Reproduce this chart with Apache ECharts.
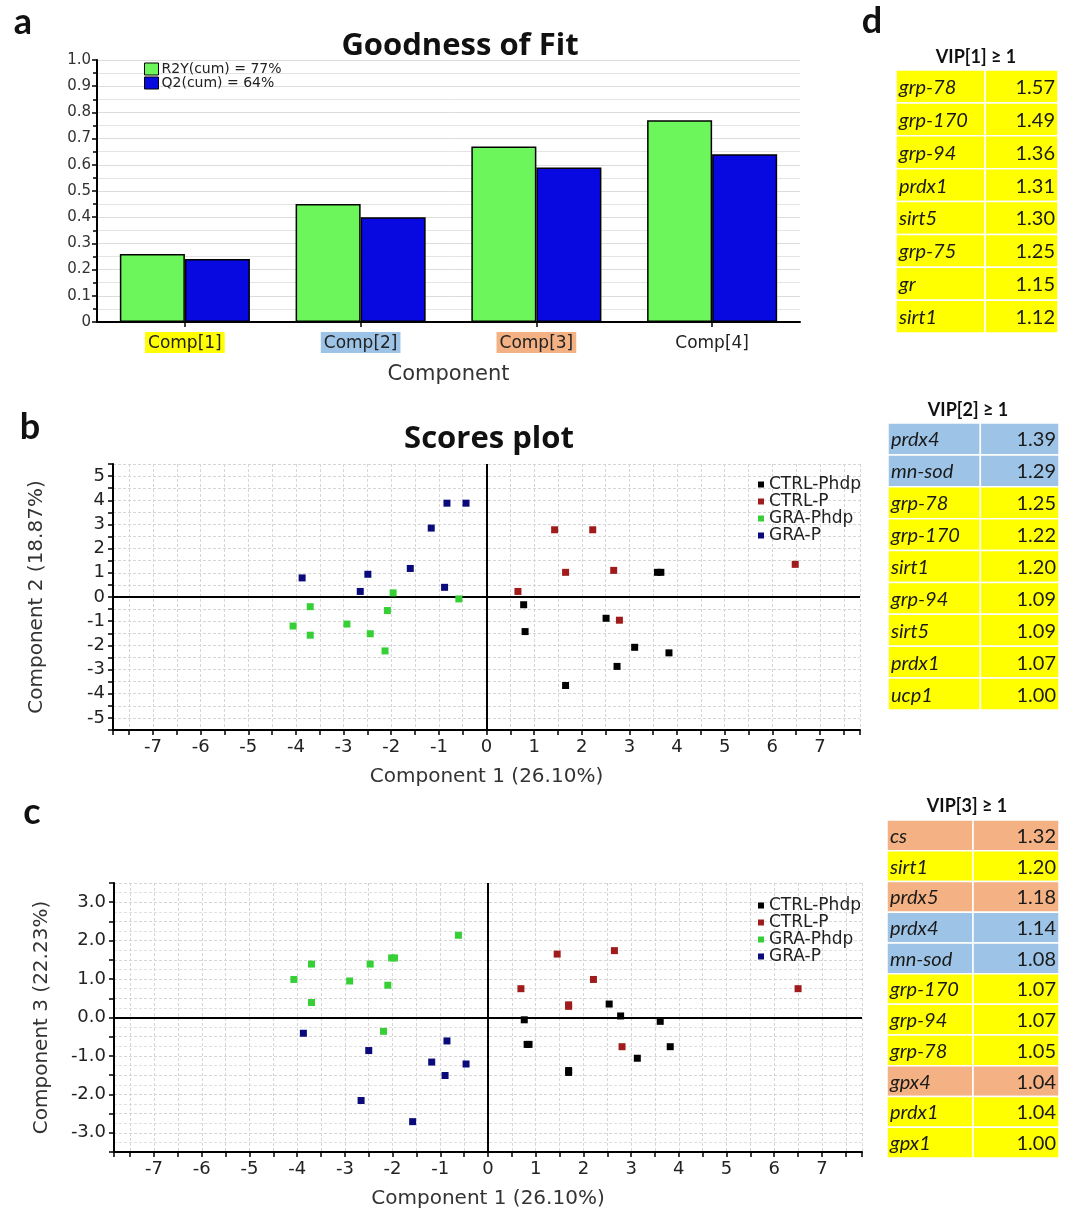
<!DOCTYPE html>
<html><head><meta charset="utf-8">
<script src="https://cdn.jsdelivr.net/npm/echarts@6/dist/echarts.min.js"></script>
<style>html,body{margin:0;padding:0;background:#fff}#c{width:1068px;height:1215px}</style>
</head><body><div id="c"></div>
<script>
// ---------- DATA ----------
const components = ['Comp[1]','Comp[2]','Comp[3]','Comp[4]'];
const r2yCum = [0.26, 0.45, 0.67, 0.77];
const q2Cum  = [0.24, 0.40, 0.59, 0.64];
const r2yName = 'R2Y(cum) = 77%';
const q2Name  = 'Q2(cum) = 64%';

const groupNames = ['CTRL-Phdp','CTRL-P','GRA-Phdp','GRA-P'];
// Scores plot: [Component 1, Component 2]
const ctrlPhdp12 = [[3.59,1.02],[3.66,1.02],[0.78,-0.32],[0.81,-1.43],[2.51,-0.88],[3.11,-2.08],[3.83,-2.31],[2.74,-2.87],[1.66,-3.66]];
const ctrlP12    = [[1.43,2.78],[2.23,2.78],[1.66,1.02],[2.67,1.10],[0.66,0.23],[2.79,-0.96],[6.48,1.35]];
const graPhdp12  = [[-1.96,0.17],[-0.58,-0.08],[-3.70,-0.40],[-2.08,-0.56],[-4.06,-1.20],[-2.93,-1.12],[-3.70,-1.58],[-2.44,-1.52],[-2.13,-2.23]];
const graP12     = [[-0.83,3.88],[-0.43,3.88],[-1.16,2.85],[-1.60,1.18],[-2.49,0.94],[-3.87,0.79],[-2.65,0.23],[-0.88,0.40]];
// [Component 1, Component 3]
const ctrlPhdp13 = [[0.76,-0.06],[0.82,-0.70],[0.86,-0.70],[1.69,-1.38],[1.69,-1.43],[2.54,0.35],[2.78,0.04],[3.61,-0.10],[3.82,-0.76],[3.13,-1.06]];
const ctrlP13    = [[1.45,1.65],[2.65,1.74],[2.21,0.99],[0.69,0.75],[1.69,0.33],[1.69,0.29],[2.81,-0.76],[6.50,0.75]];
const graPhdp13  = [[-0.62,2.14],[-2.02,1.55],[-1.96,1.55],[-2.47,1.39],[-3.70,1.39],[-4.07,0.99],[-2.90,0.95],[-2.10,0.84],[-3.70,0.39],[-2.19,-0.36]];
const graP13     = [[-3.87,-0.41],[-2.50,-0.86],[-0.86,-0.61],[-1.18,-1.16],[-0.46,-1.21],[-0.90,-1.51],[-2.66,-2.16],[-1.58,-2.71]];

// VIP tables (group = which component's colour the row carries)
const vip1Genes  = ['grp-78','grp-170','grp-94','prdx1','sirt5','grp-75','gr','sirt1'];
const vip1Values = [1.57,1.49,1.36,1.31,1.30,1.25,1.15,1.12];
const vip1Groups = [1,1,1,1,1,1,1,1];
const vip2Genes  = ['prdx4','mn-sod','grp-78','grp-170','sirt1','grp-94','sirt5','prdx1','ucp1'];
const vip2Values = [1.39,1.29,1.25,1.22,1.20,1.09,1.09,1.07,1.00];
const vip2Groups = [2,2,1,1,1,1,1,1,1];
const vip3Genes  = ['cs','sirt1','prdx5','prdx4','mn-sod','grp-170','grp-94','grp-78','gpx4','prdx1','gpx1'];
const vip3Values = [1.32,1.20,1.18,1.14,1.08,1.07,1.07,1.05,1.04,1.04,1.00];
const vip3Groups = [3,1,3,2,2,1,1,1,3,1,1];

// ---------- STYLE ----------
const SANS = 'DejaVu Sans';
const groupColors = {1:'#ffff00', 2:'#9dc3e6', 3:'#f4b183'};
const ptColors = ['#000000','#a01c1c','#36d036','#0a0a7a'];
const gridColor = '#d6d6d6';

const chart = echarts.init(document.getElementById('c'), null, {renderer:'canvas'});

function intLabel(v){ return Math.abs(v - Math.round(v)) < 1e-9 ? String(Math.round(v)) : ''; }
function intLabel1(v){ return Math.abs(v - Math.round(v)) < 1e-9 ? Math.round(v).toFixed(1) : ''; }

function scoreXAxis(gridIndex){
  return {type:'value', gridIndex, min:-7.84, max:7.84, minInterval:0.5, maxInterval:0.5,
    name:'Component 1 (26.10%)', nameLocation:'middle', nameGap:37,
    nameTextStyle:{fontFamily:SANS, fontSize:20, color:'#333'},
    axisLine:{onZero:false, lineStyle:{color:'#000', width:2}},
    axisTick:{show:true, length:5, lineStyle:{color:'#000', width:1.5}},
    axisLabel:{formatter:intLabel, fontFamily:SANS, fontSize:18, color:'#222', margin:8, showMinLabel:true, showMaxLabel:true},
    splitLine:{show:true, lineStyle:{color:gridColor, type:[3,2]}}};
}

function tableRender(split, genes, vals, groups){
  return function(params, api){
    const i = api.value(0);
    const p0 = api.coord([0, i]);
    const p1 = api.coord([1, i]);
    const h = api.size([0, 1])[1];
    const xs = p0[0] + (p1[0]-p0[0])*split;
    const y0 = p0[1] - h/2;
    const fill = groupColors[groups[i]];
    return {type:'group', children:[
      {type:'rect', shape:{x:p0[0], y:y0, width:xs-p0[0], height:h}, style:{fill, stroke:'#ffffff', lineWidth:1.5}},
      {type:'rect', shape:{x:xs, y:y0, width:p1[0]-xs, height:h}, style:{fill, stroke:'#ffffff', lineWidth:1.5}},
      {type:'text', x:p0[0]+3, y:p0[1]+1, style:{text:genes[i], fill:'#1a1a1a', font:'italic 20px Lato', align:'left', verticalAlign:'middle'}},
      {type:'text', x:p1[0]-3, y:p0[1]+1, style:{text:vals[i].toFixed(2), fill:'#1a1a1a', font:'20px Lato', align:'right', verticalAlign:'middle'}}
    ]};
  };
}
function tableAxes(gi, n){
  return [
    {type:'value', gridIndex:gi, min:0, max:1, show:false},
    {type:'category', gridIndex:gi, data:Array.from({length:n},(_, k)=>k), inverse:true, show:false}
  ];
}
const t1 = tableAxes(3, vip1Genes.length), t2 = tableAxes(4, vip2Genes.length), t3 = tableAxes(5, vip3Genes.length);

function scatter(name, data, xi, extra){
  const idx = groupNames.indexOf(name);
  return Object.assign({type:'scatter', name, data, xAxisIndex:xi, yAxisIndex:xi, symbol:'rect', symbolSize:7,
    itemStyle:{color:ptColors[idx], opacity:1}, z:5}, extra||{});
}
const zeroLines = {silent:true, symbol:'none', label:{show:false}, lineStyle:{color:'#000', width:2, type:'solid'},
  data:[{xAxis:0},{yAxis:0}]};

const titleText = (text, x, y, font) => ({type:'text', x, y, z:100,
  style:{text, font, fill:'#111', align:'center', verticalAlign:'middle'}});

const option = {
  animation:false,
  backgroundColor:'#ffffff',
  graphic:[
    titleText('a', 23, 22, 'bold 36px Lato'),
    titleText('Goodness of Fit', 460, 46, 'bold 31px "Open Sans"'),
    titleText('b', 30, 427, 'bold 36px Lato'),
    titleText('Scores plot', 489, 439, 'bold 31px "Open Sans"'),
    titleText('c', 32, 812, 'bold 36px Lato'),
    titleText('d', 872, 21, 'bold 36px Lato'),
    titleText('VIP[1] \u2265 1', 976, 57, 'bold 18px Lato'),
    titleText('VIP[2] \u2265 1', 968, 410, 'bold 18px Lato'),
    titleText('VIP[3] \u2265 1', 967, 806, 'bold 18px Lato')
  ],
  legend:[
    {data:[r2yName, q2Name], orient:'vertical', left:139, top:57, itemWidth:14, itemHeight:12, itemGap:0,
     icon:'rect', itemStyle:{borderColor:'#000', borderWidth:1},
     textStyle:{fontFamily:SANS, fontSize:14, color:'#222', lineHeight:13, padding:[0,0,0,-2]}},
    {data:groupNames, orient:'vertical', left:753, top:471, itemWidth:6, itemHeight:6, itemGap:0,
     icon:'rect', textStyle:{fontFamily:SANS, fontSize:17, color:'#222', lineHeight:13.6}},
    {data:groupNames, orient:'vertical', left:753, top:892, itemWidth:6, itemHeight:6, itemGap:0,
     icon:'rect', textStyle:{fontFamily:SANS, fontSize:17, color:'#222', lineHeight:13.6}}
  ],
  grid:[
    {left:97, top:60, width:703, height:262},
    {left:113, top:464, width:747, height:266},
    {left:114, top:883, width:748, height:269},
    {left:896, top:70, width:162, height:263},
    {left:888, top:423, width:171, height:287},
    {left:887, top:820, width:172, height:338}
  ],
  xAxis:[
    {type:'category', gridIndex:0, data:components,
     name:'Component', nameLocation:'middle', nameGap:42,
     nameTextStyle:{fontFamily:SANS, fontSize:21, color:'#333'},
     axisLine:{lineStyle:{color:'#000', width:2}},
     axisTick:{show:true, alignWithLabel:true, length:5, lineStyle:{color:'#000', width:1.5}},
     axisLabel:{margin:10, color:'#222', fontFamily:SANS, fontSize:17,
       formatter:(v,i)=>'{c'+(i+1)+'|'+v+'}',
       rich:{
         c1:{backgroundColor:groupColors[1], padding:[3,3,1,3], fontFamily:SANS, fontSize:17, color:'#222'},
         c2:{backgroundColor:groupColors[2], padding:[3,3,1,3], fontFamily:SANS, fontSize:17, color:'#222'},
         c3:{backgroundColor:groupColors[3], padding:[3,3,1,3], fontFamily:SANS, fontSize:17, color:'#222'},
         c4:{padding:[3,3,1,3], fontFamily:SANS, fontSize:17, color:'#222'}
       }},
     splitLine:{show:false}},
    scoreXAxis(1),
    scoreXAxis(2),
    t1[0], t2[0], t3[0]
  ],
  yAxis:[
    {type:'value', gridIndex:0, min:0, max:1, interval:0.1,
     axisLine:{show:true, lineStyle:{color:'#000', width:2}},
     axisTick:{show:true, length:5, lineStyle:{color:'#000', width:1.5}},
     minorTick:{show:true, splitNumber:2, length:4, lineStyle:{color:'#000', width:1.5}},
     axisLabel:{formatter:v => v===0 ? '0' : v.toFixed(1), fontFamily:SANS, fontSize:15, color:'#333', margin:6},
     splitLine:{show:true, lineStyle:{color:'#dcdcdc', width:1}},
     minorSplitLine:{show:true, lineStyle:{color:'#e4e4e4', width:1}}},
    {type:'value', gridIndex:1, min:-5.5, max:5.5, interval:0.5,
     name:'Component 2 (18.87%)', nameLocation:'middle', nameGap:66,
     nameTextStyle:{fontFamily:SANS, fontSize:20, color:'#333'},
     axisLine:{onZero:false, lineStyle:{color:'#000', width:2}},
     axisTick:{show:true, length:5, lineStyle:{color:'#000', width:1.5}},
     axisLabel:{formatter:intLabel, fontFamily:SANS, fontSize:18, color:'#222', margin:8},
     splitLine:{show:true, lineStyle:{color:gridColor, type:[3,2]}}},
    {type:'value', gridIndex:2, min:-3.5, max:3.5, interval:0.5,
     name:'Component 3 (22.23%)', nameLocation:'middle', nameGap:62,
     nameTextStyle:{fontFamily:SANS, fontSize:20, color:'#333'},
     axisLine:{onZero:false, lineStyle:{color:'#000', width:2}},
     axisTick:{show:true, length:5, lineStyle:{color:'#000', width:1.5}},
     axisLabel:{formatter:intLabel1, fontFamily:SANS, fontSize:18, color:'#222', margin:8},
     splitLine:{show:true, lineStyle:{color:gridColor, type:[3,2]}},
     minorSplitLine:{show:true, lineStyle:{color:'#e0e0e0', type:[3,2]}},
     minorTick:{show:false, splitNumber:2}},
    t1[1], t2[1], t3[1]
  ],
  series:[
    {type:'bar', name:r2yName, data:r2yCum, xAxisIndex:0, yAxisIndex:0, barGap:'0%', barCategoryGap:'26%',
     itemStyle:{color:'#6cf65c', borderColor:'#000', borderWidth:1.5}},
    {type:'bar', name:q2Name, data:q2Cum, xAxisIndex:0, yAxisIndex:0, barGap:'0%', barCategoryGap:'26%',
     itemStyle:{color:'#0808e0', borderColor:'#000', borderWidth:1.5}},
    scatter('CTRL-Phdp', ctrlPhdp12, 1, {markLine:zeroLines}),
    scatter('CTRL-P', ctrlP12, 1),
    scatter('GRA-Phdp', graPhdp12, 1),
    scatter('GRA-P', graP12, 1),
    scatter('CTRL-Phdp', ctrlPhdp13, 2, {markLine:zeroLines}),
    scatter('CTRL-P', ctrlP13, 2),
    scatter('GRA-Phdp', graPhdp13, 2),
    scatter('GRA-P', graP13, 2),
    {type:'custom', xAxisIndex:3, yAxisIndex:3, data:vip1Genes.map((g,i)=>[i, vip1Values[i], vip1Groups[i]]),
     encode:{y:0, x:1}, renderItem:tableRender(0.55, vip1Genes, vip1Values, vip1Groups), silent:true},
    {type:'custom', xAxisIndex:4, yAxisIndex:4, data:vip2Genes.map((g,i)=>[i, vip2Values[i], vip2Groups[i]]),
     encode:{y:0, x:1}, renderItem:tableRender(0.54, vip2Genes, vip2Values, vip2Groups), silent:true},
    {type:'custom', xAxisIndex:5, yAxisIndex:5, data:vip3Genes.map((g,i)=>[i, vip3Values[i], vip3Groups[i]]),
     encode:{y:0, x:1}, renderItem:tableRender(0.5, vip3Genes, vip3Values, vip3Groups), silent:true}
  ]
};
chart.setOption(option);
</script></body></html>
